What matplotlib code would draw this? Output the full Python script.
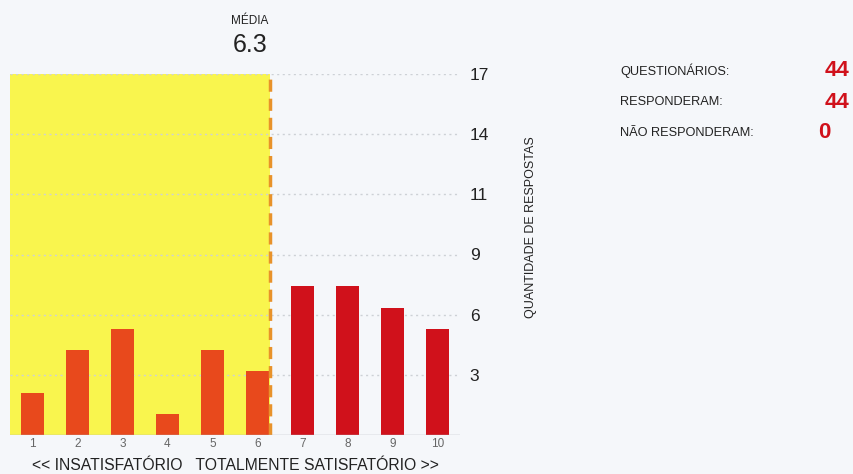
import matplotlib.pyplot as plt
import numpy as np

plt.rcParams['font.family'] = ['Liberation Sans', 'DejaVu Sans']

notas = [1, 2, 3, 4, 5, 6, 7, 8, 9, 10]
respostas = [2, 4, 5, 1, 4, 3, 7, 7, 6, 5]
total_quest = 44
responderam = 44
nao_responderam = 0

media = sum(n * r for n, r in zip(notas, respostas)) / sum(respostas)
y_max = 17
y_ticks = [y_max * k / 6 for k in range(1, 7)]
y_tick_labels = [str(int(t + 0.5)) for t in y_ticks]

bg = '#f5f7fa'
cor_baixa = '#e8491c'
cor_alta = '#d0111b'
amarelo = '#f9f54e'

fig = plt.figure(figsize=(8.54, 4.74), dpi=100, facecolor=bg)
ax = fig.add_axes([10 / 854, 39 / 474, 450 / 854, 361 / 474])
ax.set_facecolor(bg)

ax.set_xlim(0.5, 10.5)
ax.set_ylim(0, y_max)

# area amarela ate a media
ax.axvspan(0.5, media, color=amarelo, zorder=0, lw=0)

for t in y_ticks:
    ax.axhline(t, color='#cdd1d6', lw=1, ls=(0, (1.5, 2.5)), zorder=1)

cores = [cor_baixa if n <= 6 else cor_alta for n in notas]
ax.bar(notas, respostas, width=0.49, color=cores, zorder=2)

ax.axvline(media, color='#e8922a', lw=2.5, ls=(0, (3.5, 2)), zorder=3)
ax.axhline(0, color='#b0b4ba', lw=1, zorder=3)

for s in ax.spines.values():
    s.set_visible(False)

ax.set_xticks(notas)
ax.set_xticklabels([str(n) for n in notas], fontsize=8.5, color='#666666')
ax.tick_params(axis='x', length=0, pad=2)

ax.yaxis.tick_right()
ax.set_yticks(y_ticks)
ax.set_yticklabels(y_tick_labels, fontsize=12.5, color='#222222')
ax.tick_params(axis='y', length=0, pad=7)

fig.text(531 / 854, 1 - 227 / 474, 'QUANTIDADE DE RESPOSTAS', rotation=90,
         ha='center', va='center', fontsize=9, color='#222222')

fig.text(235 / 854, 1 - 466 / 474,
         '<< INSATISFATÓRIO   TOTALMENTE SATISFATÓRIO >>',
         ha='center', va='center', fontsize=11.3, color='#222222')

fig.text(268 / 854, 1 - 21 / 474, 'MÉDIA', ha='right', va='center',
         fontsize=8.5, color='#222222')
fig.text(268 / 854, 1 - 45 / 474, '%.1f' % media, ha='right', va='center',
         fontsize=18, color='#222222')

linhas = [('QUESTIONÁRIOS:', total_quest, 849),
          ('RESPONDERAM:', responderam, 849),
          ('NÃO RESPONDERAM:', nao_responderam, 831)]
for i, (rot, val, xv) in enumerate(linhas):
    y = 1 - (71 + 31 * i) / 474
    fig.text(620 / 854, y, rot, ha='left', va='center', fontsize=9.2,
             color='#222222')
    fig.text(xv / 854, y, str(val), ha='right', va='center', fontsize=16,
             color='#d0111b', fontweight='bold')

fig.savefig('out.png', dpi=100, facecolor=bg)
